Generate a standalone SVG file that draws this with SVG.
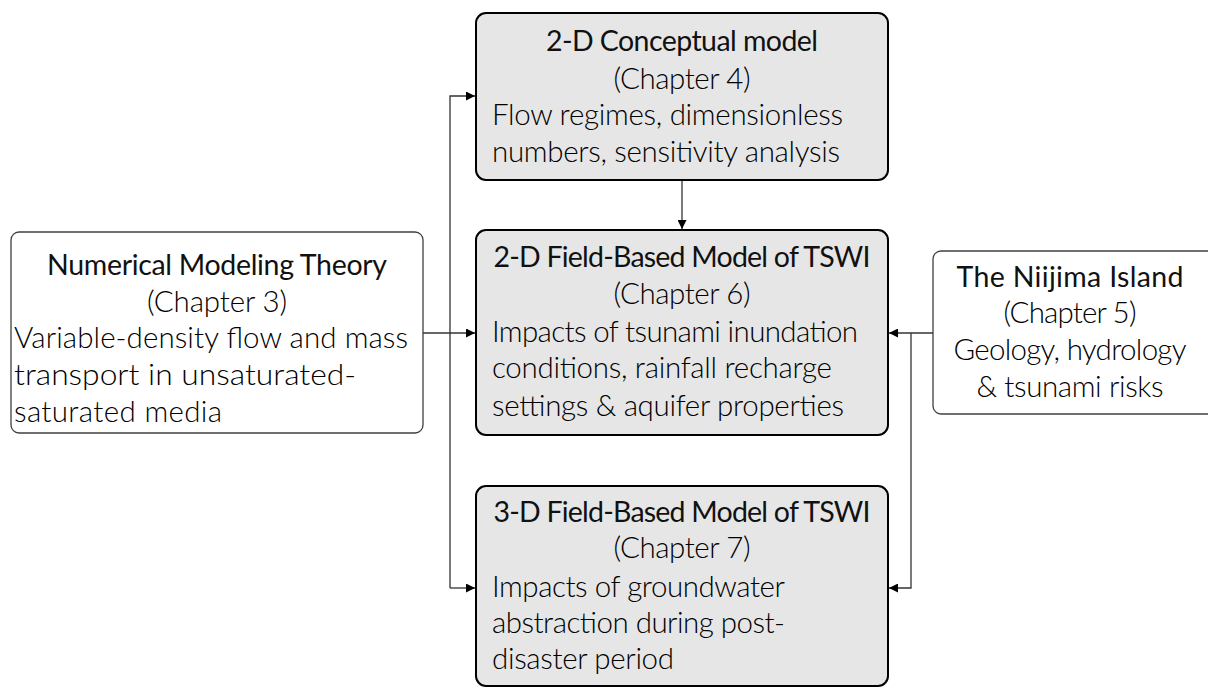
<svg xmlns="http://www.w3.org/2000/svg" width="1208" height="687" viewBox="0 0 1208 687">
<defs>
<style>
.g{fill:#e6e6e6;stroke:#000;stroke-width:2}
.w{fill:#fff;stroke:#404040;stroke-width:1.3}
text{font-family:Lato,"Open Sans",sans-serif;font-weight:300;font-size:29.5px;fill:#000}
.c{text-anchor:middle}
.t{font-weight:400;font-size:28.5px;fill:#111}
.ln{fill:none;stroke:#333;stroke-width:1.3}
</style>
<marker id="ah" viewBox="0 0 10 10" refX="10" refY="5" markerWidth="9" markerHeight="9" markerUnits="userSpaceOnUse" orient="auto">
<path d="M0,0 L10,5 L0,10 z" fill="#000"/>
</marker>
</defs>
<rect width="1208" height="687" fill="#fff"/>
<g id="connectors">
<path class="ln" d="M450,588 L450,96 L475,96" marker-end="url(#ah)"/>
<path class="ln" d="M450,588 L475,588" marker-end="url(#ah)"/>
<path class="ln" d="M423,333 L475,333" marker-end="url(#ah)"/>
<path class="ln" d="M682,180 L682,229" marker-end="url(#ah)"/>
<path class="ln" d="M933,333 L889,333" marker-end="url(#ah)"/>
<path class="ln" d="M911,333 L911,588 L889,588" marker-end="url(#ah)"/>
</g>
<g id="conceptual">
<rect class="g" x="476" y="13" width="412" height="167" rx="10"/>
<text class="c t" x="682" y="51" textLength="272">2-D Conceptual model</text>
<text class="c" x="682" y="89" textLength="137">(Chapter 4)</text>
<text x="492" y="125" textLength="351">Flow regimes, dimensionless</text>
<text x="492" y="162" textLength="348">numbers, sensitivity analysis</text>
</g>
<g id="field2d">
<rect class="g" x="476" y="230" width="412" height="205" rx="10"/>
<text class="c t" x="682" y="267" textLength="377">2-D Field-Based Model of TSWI</text>
<text class="c" x="682" y="304" textLength="137">(Chapter 6)</text>
<text x="492" y="342" textLength="366">Impacts of tsunami inundation</text>
<text x="492" y="378" textLength="340">conditions, rainfall recharge</text>
<text x="492" y="416" textLength="352">settings &amp; aquifer properties</text>
</g>
<g id="field3d">
<rect class="g" x="476" y="486" width="412" height="200" rx="10"/>
<text class="c t" x="682" y="522" textLength="377">3-D Field-Based Model of TSWI</text>
<text class="c" x="682" y="558" textLength="137">(Chapter 7)</text>
<text x="492" y="597" textLength="293">Impacts of groundwater</text>
<text x="492" y="633" textLength="293">abstraction during post-</text>
<text x="492" y="669" textLength="182">disaster period</text>
</g>
<g id="theory">
<rect class="w" x="11" y="232" width="412" height="201" rx="8"/>
<text class="c t" x="217" y="275" textLength="340">Numerical Modeling Theory</text>
<text class="c" x="217" y="312" textLength="140">(Chapter 3)</text>
<text x="14" y="348" textLength="394">Variable-density flow and mass</text>
<text x="14" y="385" textLength="342" lengthAdjust="spacingAndGlyphs">transport in unsaturated-</text>
<text x="14" y="422" textLength="208">saturated media</text>
</g>
<g id="niijima">
<rect class="w" x="933" y="251" width="285" height="163" rx="8"/>
<text class="c t" x="1070" y="287" textLength="227">The Niijima Island</text>
<text class="c" x="1070" y="323" textLength="133">(Chapter 5)</text>
<text class="c" x="1070" y="360" textLength="233">Geology, hydrology</text>
<text class="c" x="1070" y="397" textLength="187">&amp; tsunami risks</text>
</g>
</svg>
